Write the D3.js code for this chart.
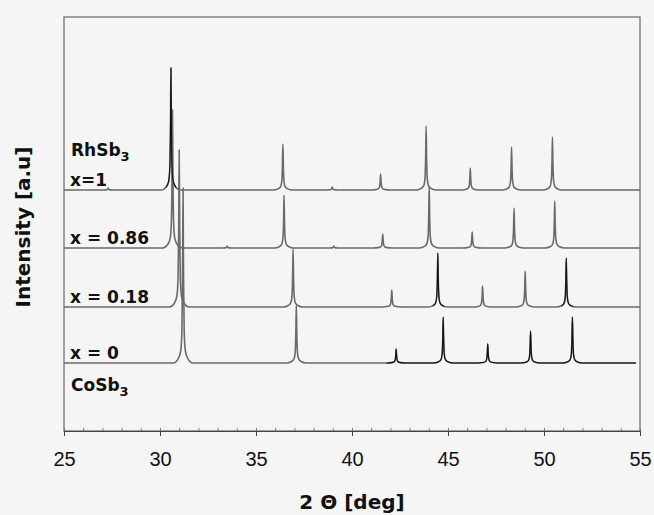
<!DOCTYPE html>
<html>
<head>
<meta charset="utf-8">
<script src="https://cdn.jsdelivr.net/npm/d3@7"></script>
<style>
  body { margin: 0; background: #f5f5f5; }
  svg { display: block; }
</style>
</head>
<body>
<script>
// samples, bottom to top
const samples = ["x = 0", "x = 0.18", "x = 0.86", "x=1"]
const offsets = [68, 124, 183, 241]          // baseline shift, a.u.
const scanEnd = [54.8, 55, 55, 55]

// peaks: [2 theta, height a.u.]
const peaks0 = [[31.2, 175], [37.1, 58], [42.3, 14], [44.75, 46], [47.07, 19], [49.3, 32], [51.48, 46]]
const peaks018 = [[31.0, 157], [36.93, 58], [42.07, 17], [44.47, 54], [46.8, 21], [49.02, 36], [51.16, 49]]
const peaks086 = [[30.65, 138], [33.5, 2], [36.46, 53], [39.05, 2], [41.6, 14], [44.02, 62], [46.26, 16], [48.44, 40], [50.56, 47]]
const peaks1 = [[27.3, 2], [30.57, 122], [36.4, 46], [38.97, 3], [41.49, 16], [43.86, 64], [46.16, 22], [48.31, 43], [50.44, 53]]
const allPeaks = [peaks0, peaks018, peaks086, peaks1]

// parts of the scan that print black in the figure: [sample index, from, to]
const blackParts = [[0, 41.8, 54.8], [1, 44.2, 44.8], [1, 50.9, 51.5], [3, 30.3, 30.85]]

const majorTicks = [25, 30, 35, 40, 45, 50, 55]
const minorTicks = d3.range(25, 55.5, 1)

const w = 654
const h = 515

const svg = d3.select("body")
  .append("svg")
  .attr("width", w)
  .attr("height", h)

const xScale = d3.scaleLinear()
  .domain([25, 55])
  .range([64, 640])

const yScale = d3.scaleLinear()
  .domain([0, 414])
  .range([431, 17])

// peak outline: half-widths in degrees and share of the peak height
const shape = [[0.5, 0], [0.25, 0.025], [0.12, 0.07], [0.06, 0.18], [0.025, 0.5], [0, 1]]

const profile = (peaks, end) => {
  const pts = [[25, 0]]
  peaks.forEach(([p, v]) => {
    shape.forEach(([dx, f]) => pts.push([p - dx, v * f]))
    shape.slice(0, -1).reverse().forEach(([dx, f]) => pts.push([p + dx, v * f]))
  })
  pts.push([end, 0])
  return pts
}

const scans = allPeaks.map((pk, i) => ({
  name: samples[i],
  offset: offsets[i],
  points: profile(pk, scanEnd[i])
}))

const line = off => d3.line()
  .x(d => xScale(d[0]))
  .y(d => yScale(d[1] + off))
  .curve(d3.curveMonotoneX)

const defs = svg.append("defs")
blackParts.forEach((b, i) => {
  defs.append("clipPath")
    .attr("id", "clip" + i)
    .append("rect")
    .attr("x", xScale(b[1]))
    .attr("width", xScale(b[2]) - xScale(b[1]))
    .attr("y", 0)
    .attr("height", h)
})

// frame
svg.append("rect")
  .attr("x", xScale(25))
  .attr("y", yScale(414))
  .attr("width", xScale(55) - xScale(25))
  .attr("height", yScale(0) - yScale(414))
  .attr("fill", "none")
  .attr("stroke", "#707070")
  .attr("stroke-width", 1.3)

// scans, top one first so lower peaks run over it
svg.selectAll("path.scan")
  .data(scans.slice().reverse())
  .enter()
  .append("path")
  .attr("class", "scan")
  .attr("d", d => line(d.offset)(d.points))
  .attr("fill", "none")
  .attr("stroke", "#6a6a6a")
  .attr("stroke-width", 1.6)

svg.selectAll("path.ink")
  .data(blackParts)
  .enter()
  .append("path")
  .attr("class", "ink")
  .attr("clip-path", (d, i) => `url(#clip${i})`)
  .attr("d", d => line(scans[d[0]].offset)(scans[d[0]].points))
  .attr("fill", "none")
  .attr("stroke", "#111")
  .attr("stroke-width", 1.1)

// x axis
const xAxis = d3.axisBottom(xScale)
  .tickValues(majorTicks)
  .tickSizeInner(5)
  .tickSizeOuter(0)
  .tickPadding(16)

const gx = svg.append("g")
  .attr("transform", `translate(0, ${yScale(0)})`)
  .call(xAxis)
gx.select(".domain").attr("stroke", "#444")
gx.selectAll(".tick line").attr("stroke", "#444").attr("y1", -3)
gx.selectAll("text")
  .attr("fill", "#111")
  .style("font-family", "'Liberation Sans', Arial, sans-serif")
  .style("font-size", "20px")

svg.append("g")
  .attr("transform", `translate(0, ${yScale(0)})`)
  .call(d3.axisBottom(xScale).tickValues(minorTicks).tickSize(-3).tickFormat(""))
  .call(g => g.select(".domain").remove())
  .selectAll("line").attr("stroke", "#777")

// titles
const bold = "'DejaVu Sans', Verdana, sans-serif"

svg.append("text")
  .attr("x", 352)
  .attr("y", 509)
  .attr("text-anchor", "middle")
  .style("font-family", bold)
  .style("font-weight", "bold")
  .style("font-size", "20px")
  .attr("fill", "#111")
  .text("2 Θ [deg]")

svg.append("text")
  .attr("transform", "translate(30, 227) rotate(-90)")
  .attr("text-anchor", "middle")
  .style("font-family", bold)
  .style("font-weight", "bold")
  .style("font-size", "20px")
  .attr("fill", "#111")
  .text("Intensity [a.u]")

// sample labels
const labels = svg.append("g")
  .style("font-family", bold)
  .style("font-weight", "bold")
  .style("font-size", "17px")
  .attr("fill", "#111")

labels.selectAll("text.sample")
  .data(scans)
  .enter()
  .append("text")
  .attr("class", "sample")
  .attr("x", 70)
  .attr("y", d => yScale(d.offset) - 4)
  .text(d => d.name)

const compounds = [["CoSb", 0, 28], ["RhSb", 3, -34]]
compounds.forEach(([c, i, dy]) => {
  const t = labels.append("text")
    .attr("x", 71)
    .attr("y", yScale(offsets[i]) + dy)
  t.append("tspan").text(c)
  t.append("tspan").attr("dy", 5).style("font-size", "13px").text("3")
})
</script>
</body>
</html>
